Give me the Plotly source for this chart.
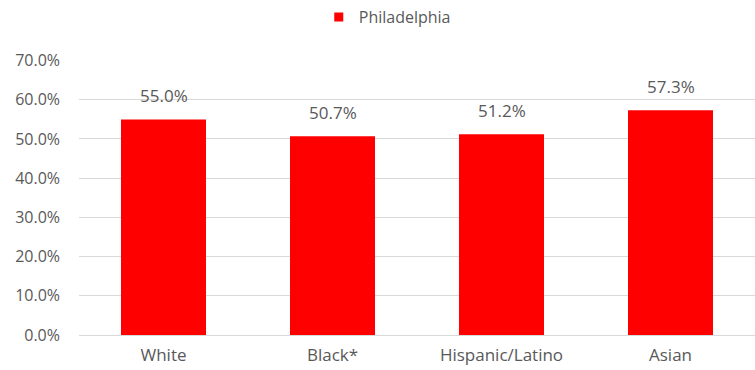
import plotly.graph_objects as go

categories = ["White", "Black*", "Hispanic/Latino", "Asian"]
values = [55.0, 50.7, 51.2, 57.3]
series_name = "Philadelphia"
y_ticks = [0, 10, 20, 30, 40, 50, 60, 70]
y_tick_labels = [f"{v:.1f}%" for v in y_ticks]

FONT = "Open Sans"
GRAY = "#595959"

fig = go.Figure()
fig.add_trace(go.Bar(
    x=categories, y=values, name=series_name,
    marker=dict(color="#ff0000", line=dict(width=0)),
    showlegend=False,
))
# legend entry with a small square swatch
fig.add_trace(go.Scatter(
    x=[None], y=[None], mode="markers", name=series_name,
    marker=dict(symbol="square", size=9, color="#ff0000"),
    showlegend=True,
))
for c, v in zip(categories, values):
    fig.add_annotation(x=c, y=v, text=f"{v:.1f}%", showarrow=False,
                       yanchor="bottom", yshift=10,
                       font=dict(family=FONT, size=17, color=GRAY))

fig.update_layout(
    width=755, height=370,
    margin=dict(l=79, r=0, t=60, b=35),
    plot_bgcolor="white", paper_bgcolor="white",
    bargap=0.497,
    font=dict(family=FONT, size=16, color=GRAY),
    legend=dict(orientation="h", x=0.456, xanchor="center", y=1, yref="container",
                yanchor="top", font=dict(family=FONT, size=16, color=GRAY),
                itemwidth=30, tracegroupgap=0),
    xaxis=dict(showgrid=False, showline=False, ticks="",
               ticklabelstandoff=8,
               tickfont=dict(family=FONT, size=17, color=GRAY)),
    yaxis=dict(range=[0, 70.15], tickvals=y_ticks, ticktext=y_tick_labels,
               showgrid=True, gridcolor="#d9d9d9", gridwidth=1,
               zeroline=True, zerolinecolor="#d9d9d9", zerolinewidth=1,
               showline=False, ticks="", ticklen=0,
               ticklabelstandoff=18,
               tickfont=dict(family=FONT, size=16, color=GRAY)),
)
fig.write_html("out.html")
